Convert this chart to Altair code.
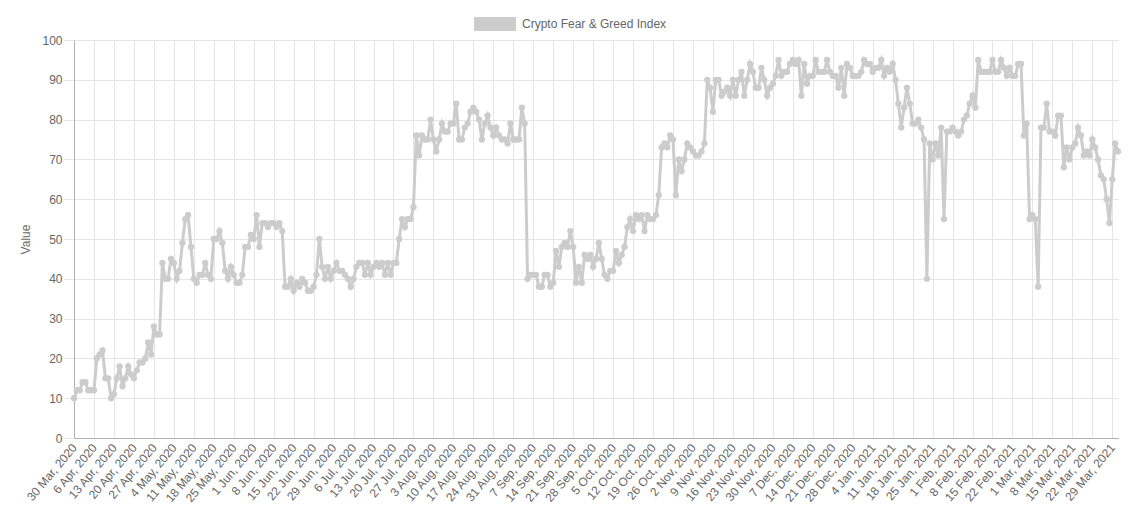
import altair as alt
import pandas as pd

series_name = "Crypto Fear & Greed Index"
start_date = "2020-03-30"
end_date = "2021-03-31"

# Daily index values, 30 Mar 2020 .. 31 Mar 2021
vals_apr_may = [10, 12, 12, 14, 14, 12, 12, 12, 20, 21, 22, 15, 15, 10, 11, 15, 18, 13, 15, 18,
                16, 15, 17, 19, 19, 20, 24, 21, 28, 26, 26, 44, 40, 40, 45, 44, 40, 42, 49, 55, 56]
vals_may_jun = [48, 40, 39, 41, 41, 44, 41, 40, 50, 50, 52, 49, 42, 40, 43, 41, 39, 39, 41, 48,
                48, 51, 50, 56, 48, 54, 54, 53, 54, 54, 53, 54, 52]
vals_jun_jul = [38, 38, 40, 37, 39, 38, 40, 39, 37, 37, 38, 41, 50, 43, 40, 43, 40, 42, 44, 42,
                42, 41, 40, 38, 40, 43, 44, 44, 41, 44, 41, 43, 44, 43, 44, 41, 44, 41, 44, 44,
                50, 55, 53, 55, 55, 58]
vals_aug = [76, 71, 76, 75, 75, 80, 75, 72, 75, 79, 77, 77, 79, 79, 84, 75, 75, 78, 79, 82,
            83, 82, 80, 75, 79, 81, 78, 76, 78, 76, 75, 75, 74, 79, 75, 75, 75, 83, 79]
vals_sep_oct = [40, 41, 41, 41, 38, 38, 41, 41, 38, 39, 47, 43, 48, 49, 48, 52, 48, 39, 43, 39,
                46, 45, 46, 43, 45, 49, 45, 41, 40, 42, 42, 47, 44, 46, 48, 53, 55, 52, 56, 55,
                56, 52, 56, 55, 55, 56]
vals_oct_nov = [61, 73, 74, 73, 76, 75, 61, 70, 67, 70, 74, 73, 72, 71, 71, 72, 74, 90, 88, 82,
                90, 90, 86, 87, 88, 86, 90, 86, 90, 92, 86, 90, 94, 92, 88, 88, 93, 90, 86, 88,
                89, 91]
vals_dec_jan = [95, 91, 92, 92, 94, 95, 94, 95, 86, 94, 89, 91, 91, 95, 92, 92, 92, 95, 92, 91,
                91, 88, 93, 86, 94, 93, 91, 91, 91, 92, 95, 94, 94, 92, 93, 93, 95, 91, 93, 92,
                94, 90, 84]
vals_jan_feb = [78, 83, 88, 84, 79, 79, 80, 78, 75, 40, 74, 70, 74, 71, 78, 55, 77, 77, 78, 77,
                76, 77, 80, 81, 84, 86, 83]
vals_feb_mar = [95, 92, 92, 92, 92, 95, 92, 92, 95, 93, 91, 93, 91, 91, 94, 94,
                76, 79, 55, 56, 55, 38, 78, 78, 84, 77, 77, 76, 81, 81,
                68, 73, 70, 73, 74, 78, 76, 71, 72, 71, 75, 73, 70, 66, 65, 60, 54, 65, 74, 72]

values = (vals_apr_may + vals_may_jun + vals_jun_jul + vals_aug + vals_sep_oct
          + vals_oct_nov + vals_dec_jan + vals_jan_feb + vals_feb_mar)
dates = pd.date_range(start_date, periods=len(values), freq="D").strftime("%Y-%m-%d").tolist()

# weekly tick labels and value ticks
tick_dates = pd.date_range("2020-03-30", "2021-03-29", freq="7D")
tick_ms = [int(d.value // 10**6) for d in tick_dates]
y_ticks = list(range(0, 101, 10))
start_ms = int(pd.Timestamp(start_date).value // 10**6)
end_ms = int(pd.Timestamp(end_date).value // 10**6)

df = pd.DataFrame({"date": dates, "value": values, "series": series_name})

FONT = "Liberation Sans"
GREY = "#cccccc"

chart = alt.Chart(df).mark_line(
    strokeWidth=3,
    point=alt.OverlayMarkDef(filled=True, size=40, opacity=1),
).encode(
    x=alt.X(
        "date:T",
        scale=alt.Scale(type="utc", domain=[start_ms, end_ms], nice=False),
        axis=alt.Axis(
            values=tick_ms,
            labelExpr="utcFormat(datum.value, '%-d %b, %Y')",
            labelAngle=-50,
            labelAlign="right",
            labelBaseline="middle",
            labelPadding=7,
            labelOverlap=False,
            labelBound=False,
            labelFlush=False,
            tickSize=0,
            title=None,
        ),
    ),
    y=alt.Y(
        "value:Q",
        scale=alt.Scale(domain=[0, 100], nice=False),
        axis=alt.Axis(values=y_ticks, title="Value", tickSize=10, labelPadding=2,
                      titlePadding=9),
    ),
    color=alt.Color(
        "series:N",
        scale=alt.Scale(range=[GREY]),
        legend=alt.Legend(
            title=None,
            orient="none",
            legendX=400,
            legendY=-37,
            symbolType="M-1,-0.333H1V0.333H-1Z",
            symbolSize=1764,
            symbolStrokeWidth=0,
            symbolFillColor=GREY,
            symbolStrokeColor=GREY,
            symbolOpacity=1,
            labelFont=FONT,
            labelFontSize=12,
            labelColor="#666666",
            labelOffset=6,
        ),
    ),
).properties(
    width=1044,
    height=398,
    autosize=alt.AutoSizeParams(type="none"),
    padding={"left": 66, "top": 32, "right": 5, "bottom": 76},
).configure_view(
    stroke=None
).configure_legend(
    padding=0
).configure_axis(
    labelFont=FONT,
    labelFontSize=12,
    labelColor="#666666",
    titleFont=FONT,
    titleFontSize=12,
    titleColor="#666666",
    titleFontWeight="normal",
    gridColor="#e5e5e5",
    tickColor="#e5e5e5",
    domainColor="#b0b0b0",
)

chart.save("out.html", embed_options={"renderer": "svg", "actions": False})
